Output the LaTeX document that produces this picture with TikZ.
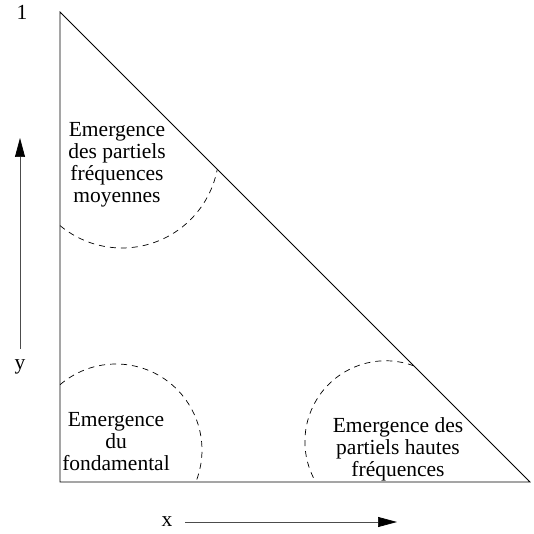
\documentclass[tikz,border=0pt]{standalone}
\usepackage{fontspec}
\setmainfont{Liberation Serif}
\usetikzlibrary{arrows.meta}
\begin{document}
\begin{tikzpicture}[x=1pt,y=1pt,
  edge/.style={line width=0.8pt, black},
  zone/.style={line width=0.7pt, black, dash pattern=on 6pt off 5pt},
  lbl/.style={font=\fontsize{21.5}{22}\selectfont, align=center, inner sep=0pt},
  axis/.style={line width=0.7pt, black!70, -{Triangle[length=19pt,width=10pt,color=black]}}]
\useasboundingbox (0,0) rectangle (533,534);
% triangle
\coordinate (A) at (60,522);
\coordinate (B) at (60,52);
\coordinate (C) at (530,52);
\draw[edge] (A) -- (B) -- (C) -- cycle;
% dashed zones
\coordinate (c1) at (122,383);
\coordinate (c2) at (116,84);
\coordinate (c3) at (385.7,92.4);
\draw[zone] ([shift={(230.3:97)}]c1) arc[start angle=230.3,end angle=349.1,radius=97];
\draw[zone] ([shift={(130.6:86)}]c2) arc[start angle=130.6,end angle=-21.8,radius=86];
\draw[zone] ([shift={(69.7:80.8)}]c3) arc[start angle=69.7,end angle=210,radius=80.8];
% texts
\node[lbl] (tl) at (117,369) {Emergence\\des partiels\\fréquences\\moyennes};
\node[lbl] (bl) at (116,92) {Emergence\\du\\fondamental};
\node[lbl] (br) at (398,85) {Emergence des\\partiels hautes\\fréquences};
% axes
\node[lbl] (one) at (22,522) {1};
\node[lbl] (ylab) at (20,167) {y};
\node[lbl] (xlab) at (167,12) {x};
\coordinate (ys) at (20,185);
\coordinate (ye) at (20,396);
\coordinate (xs) at (185,12);
\coordinate (xe) at (397,12);
\draw[axis] (ys) -- (ye);
\draw[axis] (xs) -- (xe);
\end{tikzpicture}
\end{document}
